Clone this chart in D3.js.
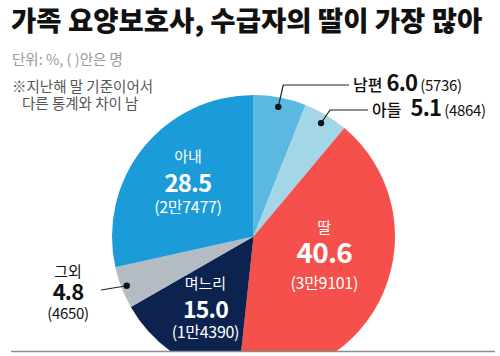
<!DOCTYPE html>
<html><head><meta charset="utf-8">
<script src="https://cdn.jsdelivr.net/npm/d3@7"></script>
<style>
html,body{margin:0;padding:0;background:#fff;}
text{font-family:"Noto Sans CJK KR","Noto Sans",sans-serif;}
</style></head>
<body><svg id="c" width="500" height="356"></svg>
<script>
const categories = ["남편","아들","딸","며느리","그외","아내"];
const values = [6.0, 5.1, 40.6, 15.0, 4.8, 28.5];
const counts = ["5736","4864","3만9101","1만4390","4650","2만7477"];
const colors = ["#5bb9e1","#a3d6e7","#f5504b","#0c2350","#b3bbc3","#1b9bd7"];

const svg = d3.select("#c");
const W = 500, H = 356;
const cx = 253.5, cy = 236.5, R = 141.5;

// title
svg.append("text").attr("x",11).attr("y",31).attr("font-size",27.5).attr("font-weight",900)
  .attr("fill","#111").text("가족 요양보호사, 수급자의 딸이 가장 많아");
svg.append("text").attr("x",12).attr("y",65).attr("font-size",14.5).attr("fill","#999")
  .text("단위: %, ( )안은 명");
svg.append("text").attr("x",12).attr("y",92).attr("font-size",14.5).attr("fill","#555")
  .text("※지난해 말 기준이어서");
svg.append("text").attr("x",22).attr("y",109).attr("font-size",14.5).attr("fill","#555")
  .text("다른 통계와 차이 남");

svg.append("defs").append("clipPath").attr("id","clip")
  .append("rect").attr("x",0).attr("y",0).attr("width",W).attr("height",351);

const data = categories.map((c,i)=>({cat:c,val:values[i],cnt:counts[i],col:colors[i]}));
const pie = d3.pie().value(d=>d.val).sort(null);
const arcs = pie(data);
const arc = d3.arc().innerRadius(0).outerRadius(R);

const g = svg.append("g").attr("clip-path","url(#clip)")
  .append("g").attr("transform",`translate(${cx},${cy})`);
g.selectAll("path").data(arcs).join("path")
  .attr("d",arc).attr("fill",d=>d.data.col);

// bottom rule
svg.append("line").attr("x1",11).attr("x2",495).attr("y1",351.5).attr("y2",351.5)
  .attr("stroke","#8c8c8c").attr("stroke-width",1.5);

const lg = svg.append("g").attr("transform",`translate(${cx},${cy})`);

// inside labels: radius, angle nudge (deg), sizes, line offsets
const inside = {
  "딸":   {r:74, da:-6, name:15, num:28, cnt:16, y0:-25, y1:-4, y2:31},
  "며느리":{r:88, da:0, name:15, num:23, cnt:16, y0:-21, y1:1, y2:28},
  "아내": {r:84, da:0, name:15, num:24, cnt:16, y0:-22, y1:1, y2:29}
};
arcs.forEach(a=>{
  const s = inside[a.data.cat];
  if(!s) return;
  const mid = (a.startAngle+a.endAngle)/2 + s.da*Math.PI/180;
  const p = d3.arc().innerRadius(s.r).outerRadius(s.r).centroid({startAngle:mid,endAngle:mid});
  const gg = lg.append("g").attr("transform",`translate(${p[0]},${p[1]})`)
    .attr("text-anchor","middle").attr("fill","#fff");
  gg.append("text").attr("y",s.y0).attr("font-size",s.name).text(a.data.cat);
  gg.append("text").attr("y",s.y1+s.num*0.3).attr("font-size",s.num).attr("font-weight",600)
    .attr("letter-spacing",-0.8).text(a.data.val.toFixed(1));
  gg.append("text").attr("y",s.y2).attr("font-size",s.cnt).attr("letter-spacing",-0.3).text(`(${a.data.cnt})`);
});

// outside labels with leader lines
const dotR = 132;
function dotPos(a, r){
  const mid=(a.startAngle+a.endAngle)/2;
  return d3.arc().innerRadius(r).outerRadius(r).centroid({startAngle:mid,endAngle:mid});
}
const byCat = {}; arcs.forEach(a=>byCat[a.data.cat]=a);

function sideLabel(cat, ly, elbowDx, lineEnd, tx, gap){
  const a = byCat[cat]; const p = dotPos(a, dotR);
  const px=p[0]+cx, py=p[1]+cy;
  svg.append("path").attr("d",`M${px},${py} L${px+elbowDx},${ly} L${lineEnd},${ly}`)
    .attr("fill","none").attr("stroke","#222").attr("stroke-width",1.2);
  svg.append("circle").attr("cx",px).attr("cy",py).attr("r",3.2).attr("fill","#111");
  const t = svg.append("text").attr("x",tx).attr("y",ly+6).attr("fill","#111");
  t.append("tspan").attr("font-size",16).attr("font-weight",500).text(a.data.cat);
  t.append("tspan").attr("dx",gap).attr("font-size",22).attr("font-weight",600).attr("letter-spacing",-0.8).text(a.data.val.toFixed(1));
  t.append("tspan").attr("font-size",15).attr("dx",3).attr("letter-spacing",-0.3).text(`(${a.data.cnt})`);
}
sideLabel("남편", 85, 5, 349, 353, 4);
sideLabel("아들", 110, 9, 368, 372, 9);

// 그외
(function(){
  const a = byCat["그외"]; const p = dotPos(a, 136);
  const px=p[0]+cx, py=p[1]+cy;
  svg.append("line").attr("x1",px).attr("y1",py).attr("x2",101).attr("y2",290)
    .attr("stroke","#222").attr("stroke-width",1.2);
  svg.append("circle").attr("cx",px).attr("cy",py).attr("r",3.2).attr("fill","#111");
  const gg = svg.append("g").attr("text-anchor","middle").attr("fill","#111");
  gg.append("text").attr("x",68).attr("y",277).attr("font-size",15).text(a.data.cat);
  gg.append("text").attr("x",68).attr("y",300).attr("font-size",22).attr("font-weight",600).attr("letter-spacing",-0.8).text(a.data.val.toFixed(1));
  gg.append("text").attr("x",68).attr("y",319).attr("font-size",15).attr("letter-spacing",-0.3).text(`(${a.data.cnt})`);
})();
</script></body></html>
